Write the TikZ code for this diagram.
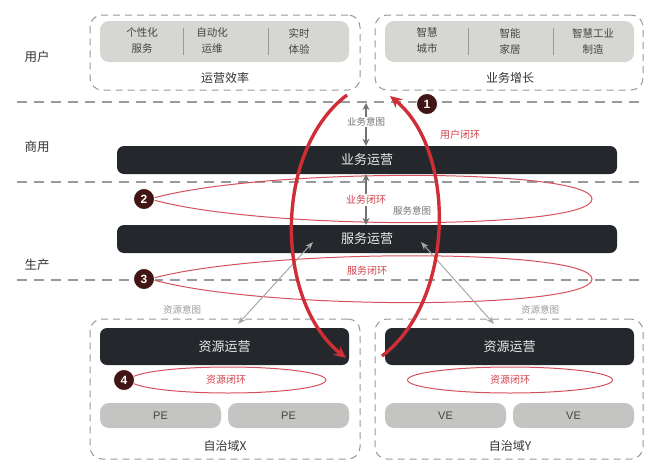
\documentclass[tikz,border=0pt]{standalone}
\usepackage{fontspec}
\setmainfont{Noto Sans CJK SC}
\newfontfamily\latinfont{Liberation Sans}
\usetikzlibrary{arrows.meta,shapes.geometric}
\definecolor{barcol}{HTML}{24272B}
\definecolor{bandcol}{HTML}{D6D6D3}
\definecolor{pecol}{HTML}{C4C4C2}
\definecolor{loopred}{HTML}{CF2E36}
\definecolor{thinred}{HTML}{D4505A}
\definecolor{labred}{HTML}{D0404A}
\definecolor{badgecol}{HTML}{421515}
\definecolor{sepgray}{HTML}{9A9A9A}
\definecolor{txtgray}{HTML}{444444}
\begin{document}
\begin{tikzpicture}[x=1pt,y=-1pt,
  zone/.style={draw=sepgray, line width=1pt, dash pattern=on 7pt off 5pt, rounded corners=12pt, inner sep=0pt},
  band/.style={fill=bandcol, rounded corners=9pt, inner sep=0pt, minimum width=249pt, minimum height=41pt},
  sepline/.style={draw=sepgray, line width=1.1pt, dash pattern=on 10pt off 7pt},
  bandtxt/.style={text=txtgray, font=\fontsize{10.5}{16}\selectfont, align=center},
  bar/.style={fill=barcol, rounded corners=7pt, text=white!92!black, font=\fontsize{13}{15}\selectfont, inner sep=0pt},
  cell/.style={fill=pecol, rounded corners=9pt, inner sep=0pt, minimum width=121pt, minimum height=25pt, text=txtgray, font=\latinfont\fontsize{11}{13}\selectfont},
  side/.style={text=black!80, font=\fontsize{12.5}{14}\selectfont},
  caption/.style={text=black!80, font=\fontsize{12}{14}\selectfont},
  intent/.style={text=black!55, font=\fontsize{9.5}{11}\selectfont, inner sep=1pt},
  redlab/.style={text=labred, font=\fontsize{10}{12}\selectfont, inner sep=1pt},
  badge/.style={circle, fill=badgecol, draw=white, line width=0.8pt, text=white, minimum size=21pt, inner sep=0pt, font=\latinfont\bfseries\fontsize{12}{14}\selectfont},
  bigloop/.style={draw=loopred, line width=3.4pt, -{Stealth[length=12pt,width=11pt]}},
  thinloop/.style={draw=thinred, line width=1pt},
  vint/.style={draw=black!55, line width=1.4pt, -{Stealth[length=7pt,width=7pt]}},
  dint/.style={draw=black!35, line width=1pt, {Stealth[length=8pt,width=6pt]}-{Stealth[length=8pt,width=6pt]}}
]
\useasboundingbox (0,0) rectangle (660,471);

% separator lines
\draw[sepline] (17,102) -- (643,102);
\draw[sepline] (17,182) -- (643,182);
\draw[sepline] (17,280) -- (643,280);

% side labels
\node[side] (lu) at (37,57) {用户};
\node[side] (lb) at (37,147) {商用};
\node[side] (lp) at (37,265) {生产};

% top zones
\node[zone, minimum width=270pt, minimum height=75pt] (effz) at (225,52.5) {};
\node[zone, minimum width=268pt, minimum height=75pt] (grwz) at (509,52.5) {};
\node[band] (effb) at (224.5,41.5) {};
\node[band] (grwb) at (509.5,41.5) {};
\draw[sepgray, line width=0.8pt] (183,28) -- (183,55) (268,28) -- (268,55);
\draw[sepgray, line width=0.8pt] (468,28) -- (468,55) (553,28) -- (553,55);
\node[bandtxt] (t1) at (142,41) {个性化\\服务};
\node[bandtxt] (t2) at (212,41) {自动化\\运维};
\node[bandtxt] (t3) at (299,41) {实时\\体验};
\node[bandtxt] (t4) at (427,41) {智慧\\城市};
\node[bandtxt] (t5) at (510,41) {智能\\家居};
\node[bandtxt] (t6) at (593,41) {智慧工业\\制造};
\node[caption] (effc) at (225,78) {运营效率};
\node[caption] (grwc) at (510,78) {业务增长};

% thin loops (2,3)
\coordinate (l2a) at (150,199);
\coordinate (l2b) at (592,199);
\draw[thinloop] (l2a) .. controls (260,167) and (592,168) .. (l2b)
                      .. controls (592,230) and (260,231) .. (l2a);
\coordinate (l3a) at (150,279);
\coordinate (l3b) at (592,279);
\draw[thinloop] (l3a) .. controls (260,248) and (592,248) .. (l3b)
                      .. controls (592,310) and (260,311) .. (l3a);

% bars
\node[bar, minimum width=500pt, minimum height=28pt] (biz) at (367,160) {业务运营};
\node[bar, minimum width=500pt, minimum height=28pt] (svc) at (367,239) {服务运营};

% bottom zones
\node[zone, minimum width=270pt, minimum height=140pt] (zx) at (225,389) {};
\node[zone, minimum width=268pt, minimum height=140pt] (zy) at (509,389) {};
\node[bar, minimum width=249pt, minimum height=37pt] (rx) at (224.5,346.5) {资源运营};
\node[bar, minimum width=249pt, minimum height=37pt] (ry) at (509.5,346.5) {资源运营};
\node[draw=thinred, line width=1pt, ellipse, minimum width=196pt, minimum height=26pt, inner sep=0pt] (ex) at (228,380) {};
\node[draw=thinred, line width=1pt, ellipse, minimum width=205pt, minimum height=26pt, inner sep=0pt] (ey) at (510,380) {};
\node[redlab] (exl) at (226,380) {资源闭环};
\node[redlab] (eyl) at (510,380) {资源闭环};
\node[cell] (pe1) at (160.5,415.5) {PE};
\node[cell] (pe2) at (288.5,415.5) {PE};
\node[cell] (ve1) at (445.5,415.5) {VE};
\node[cell] (ve2) at (573.5,415.5) {VE};
\node[caption] (cx) at (225,446) {自治域X};
\node[caption] (cy) at (510,446) {自治域Y};

% vertical intent arrows
\coordinate (ia) at (366,122);
\draw[vint] (ia) -- (366,103);
\draw[vint] (ia) -- (biz.north -| ia);
\node[intent, fill=white] (ial) at (ia) {业务意图};
\coordinate (ib) at (366,200);
\draw[vint] (ib) -- (biz.south -| ib);
\draw[vint] (ib) -- (svc.north -| ib);
\node[redlab, fill=white] (ibl) at (ib) {业务闭环};
\node[intent] (sil) at (412,211) {服务意图};
\node[redlab] (svl) at (367,271) {服务闭环};
\node[redlab] (ucl) at (460,135) {用户闭环};

% diagonal intent arrows
\coordinate (d1a) at (313,242);
\coordinate (d1b) at (238,324);
\coordinate (d2a) at (421,242);
\coordinate (d2b) at (494,324);
\draw[dint] (d1a) -- (d1b);
\draw[dint] (d2a) -- (d2b);
\node[intent, text=black!40] (ril) at (182,310) {资源意图};
\node[intent, text=black!40] (rir) at (540,310) {资源意图};

% big user loop
\coordinate (ua1) at (347,95);
\coordinate (ua2) at (346,358);
\coordinate (ub1) at (382,356);
\coordinate (ub2) at (390,96);
\draw[bigloop] (ua1) .. controls (274,150) and (274,300) .. (ua2);
\draw[bigloop] (ub1) .. controls (456,300) and (456,150) .. (ub2);

% badges
\node[badge] (b1) at (427,104) {1};
\node[badge] (b2) at (144,199) {2};
\node[badge] (b3) at (144,279) {3};
\node[badge] (b4) at (124,380) {4};
\end{tikzpicture}
\end{document}
